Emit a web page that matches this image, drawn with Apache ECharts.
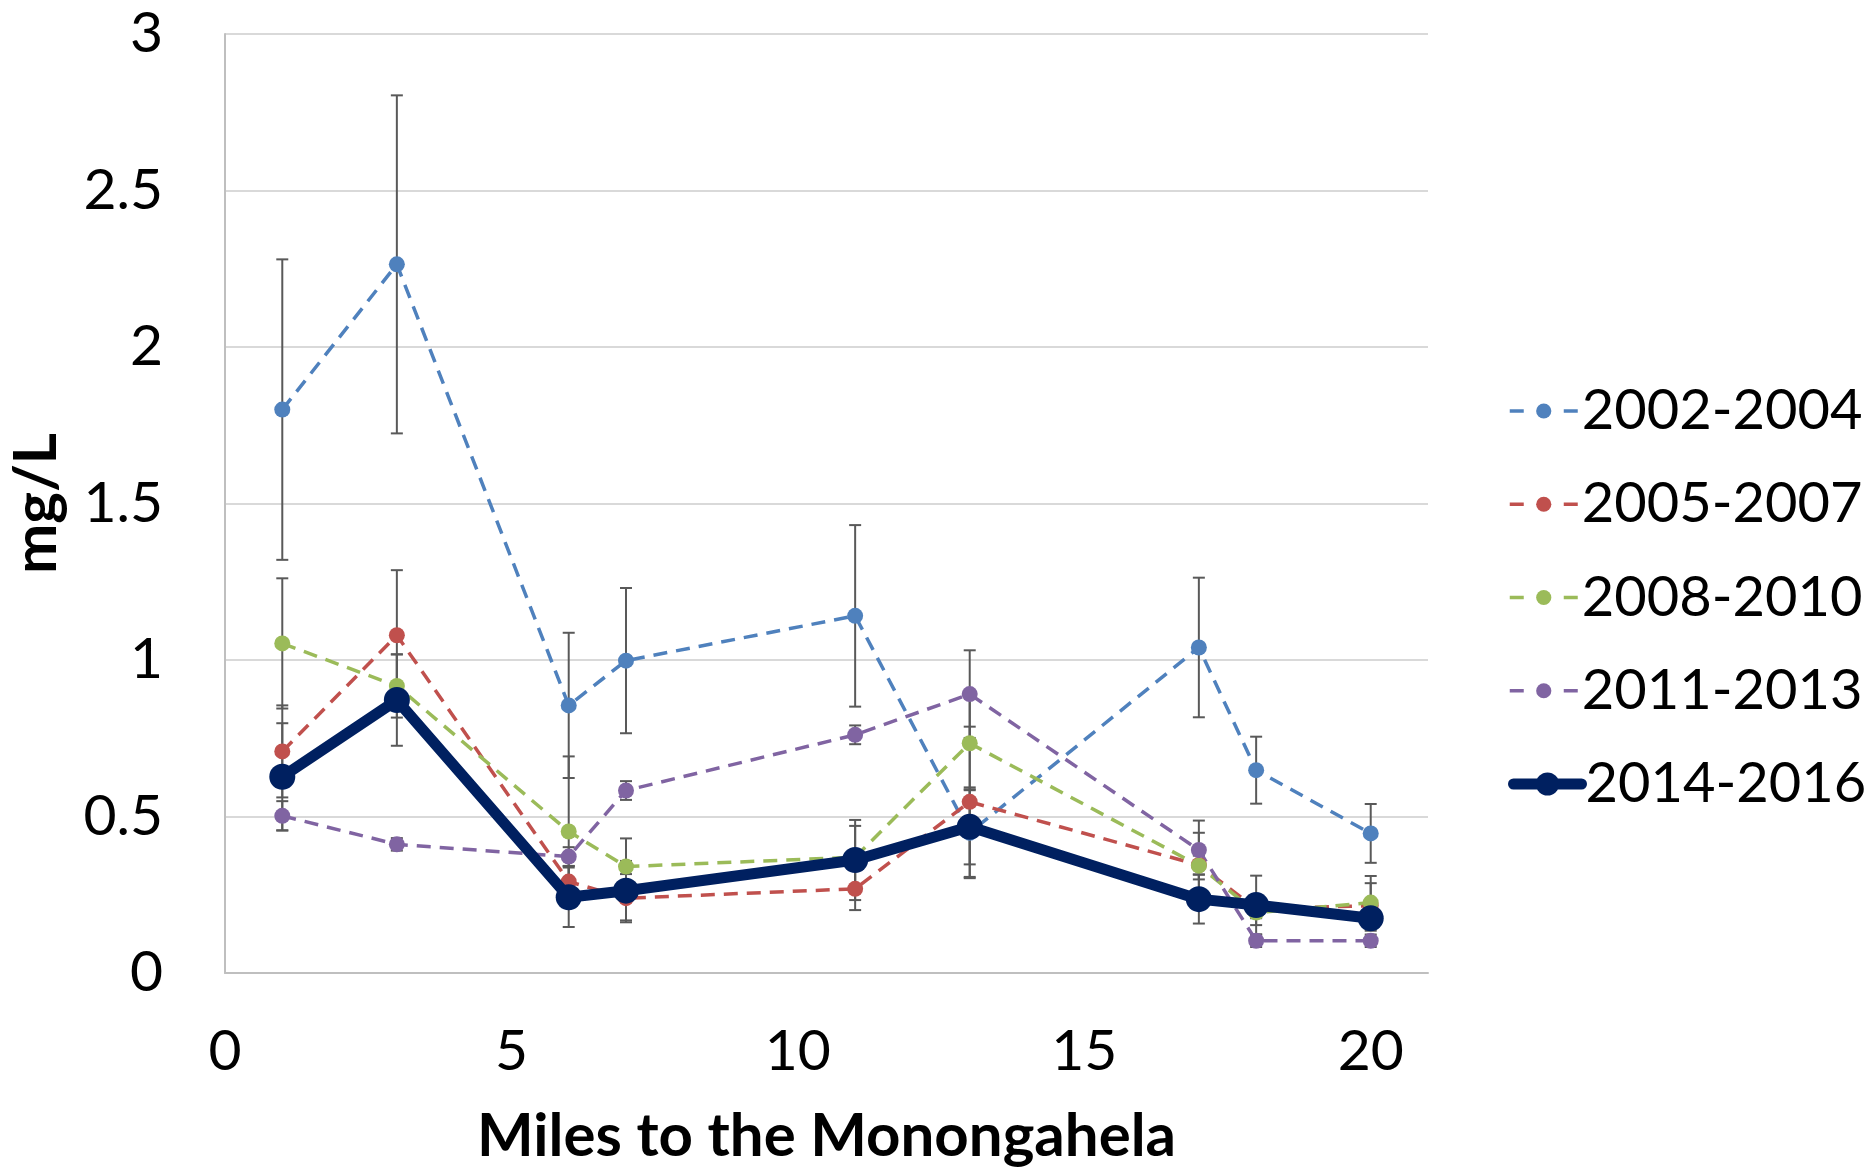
<!DOCTYPE html>
<html>
<head>
<meta charset="utf-8">
<script src="https://cdn.jsdelivr.net/npm/echarts@6/dist/echarts.min.js"></script>
<style>
html,body{margin:0;padding:0;background:#fff;}
#chart{width:1864px;height:1171px;}
</style>
</head>
<body>
<div id="chart"></div>
<script>
// ---- data ----
const miles = [1, 3, 6, 7, 11, 13, 17, 18, 20];
const seriesNames = ['2002-2004', '2005-2007', '2008-2010', '2011-2013', '2014-2016'];
const v2002 = [1.80, 2.264, 0.855, 0.998, 1.141, 0.448, 1.040, 0.648, 0.446];
const e2002 = [0.48, 0.54, 0.232, 0.232, 0.29, 0.145, 0.223, 0.107, 0.094];
const v2005 = [0.708, 1.079, 0.292, 0.239, 0.269, 0.547, 0.345, 0.205, 0.215];
const e2005 = [0.147, 0.208, 0.05, 0.077, 0.068, 0.24, 0.03, 0.03, 0.072];
const v2008 = [1.053, 0.917, 0.452, 0.340, 0.37, 0.734, 0.343, 0.193, 0.225];
const e2008 = [0.208, 0.101, 0.24, 0.09, 0.10, 0.15, 0.105, 0.04, 0.085];
const v2011 = [0.502, 0.411, 0.372, 0.583, 0.761, 0.891, 0.393, 0.103, 0.103];
const e2011 = [0.047, 0.02, 0.03, 0.03, 0.03, 0.14, 0.094, 0.02, 0.02];
const v2014 = [0.627, 0.872, 0.242, 0.263, 0.361, 0.467, 0.236, 0.217, 0.175];
const e2014 = [0.171, 0.146, 0.095, 0.095, 0.128, 0.12, 0.078, 0.094, 0.04];
const yTicks = [0, 0.5, 1, 1.5, 2, 2.5, 3];
const xTicks = [0, 5, 10, 15, 20];
const xTitle = 'Miles to the Monongahela';
const yTitle = 'mg/L';

const values = [v2002, v2005, v2008, v2011, v2014];
const errors = [e2002, e2005, e2008, e2011, e2014];
const colors = ['#4F81BD', '#C0504D', '#9BBB59', '#8064A2', '#002060'];

const FONT = 'Lato';

function errRender(params, api) {
  const x = api.value(0), lo = api.value(1), hi = api.value(2);
  const p1 = api.coord([x, hi]);
  const p2 = api.coord([x, lo]);
  const w = 6;
  const st = { stroke: '#595959', lineWidth: 2 };
  return {
    type: 'group',
    children: [
      { type: 'line', shape: { x1: p1[0], y1: p1[1], x2: p2[0], y2: p2[1] }, style: st },
      { type: 'line', shape: { x1: p1[0] - w, y1: p1[1], x2: p1[0] + w, y2: p1[1] }, style: st },
      { type: 'line', shape: { x1: p2[0] - w, y1: p2[1], x2: p2[0] + w, y2: p2[1] }, style: st }
    ]
  };
}

const series = [];
values.forEach((vals, k) => {
  series.push({
    type: 'custom',
    name: seriesNames[k] + ' err',
    renderItem: errRender,
    encode: { x: 0, y: [1, 2] },
    data: miles.map((m, i) => [m, vals[i] - errors[k][i], vals[i] + errors[k][i]]),
    z: 2,
    silent: true
  });
});
values.forEach((vals, k) => {
  const bold = k === 4;
  series.push({
    type: 'line',
    name: seriesNames[k],
    data: miles.map((m, i) => [m, vals[i]]),
    symbol: 'circle',
    symbolSize: bold ? 26 : 16,
    showAllSymbol: true,
    itemStyle: { color: colors[k] },
    lineStyle: bold ? { color: colors[k], width: 11, type: 'solid', cap: 'round', join: 'round' }
                    : { color: colors[k], width: 3.5, type: [14, 9] },
    z: bold ? 5 : 3,
    animation: false
  });
});

const legendText = { fontFamily: FONT, fontSize: 56, color: '#000', lineHeight: 60, padding: [0, 0, 0, -1] };
const LEG_TOP = 376, LEG_STEP = 93.25;

const chart = echarts.init(document.getElementById('chart'), null, { renderer: 'canvas' });
chart.setOption({
  animation: false,
  backgroundColor: '#fff',
  grid: { left: 225, top: 34, width: 1203, height: 939, containLabel: false, outerBoundsMode: 'none' },
  legend: [
    {
      data: seriesNames.slice(0, 4).map(n => ({ name: n, lineStyle: { width: 3.5, type: [14, 40] } })),
      orient: 'vertical',
      left: 1503,
      top: LEG_TOP,
      itemWidth: 68,
      itemHeight: 19,
      itemGap: LEG_STEP - 60,
      textStyle: legendText
    },
    {
      data: [{ name: seriesNames[4], lineStyle: { width: 11, cap: 'round' } }],
      orient: 'vertical',
      left: 1503,
      top: LEG_TOP + 4 * LEG_STEP,
      itemWidth: 68,
      itemHeight: 29,
      textStyle: legendText
    }
  ],
  xAxis: {
    type: 'value',
    min: 0, max: 21, interval: 5,
    name: xTitle,
    nameLocation: 'middle',
    nameGap: 134,
    nameTextStyle: { fontFamily: FONT, fontSize: 60, fontWeight: 'bold', color: '#000' },
    axisLine: { show: true, lineStyle: { color: '#BFBFBF', width: 2 } },
    axisTick: { show: false },
    splitLine: { show: false },
    axisLabel: {
      fontFamily: FONT, fontSize: 57, color: '#000', margin: 50,
      formatter: v => (xTicks.indexOf(v) >= 0 ? String(v) : '')
    }
  },
  yAxis: {
    type: 'value',
    min: 0, max: 3, interval: 0.5,
    name: yTitle,
    nameLocation: 'middle',
    nameGap: 158,
    nameRotate: 90,
    nameTextStyle: { fontFamily: FONT, fontSize: 60, fontWeight: 'bold', color: '#000' },
    axisLine: { show: true, lineStyle: { color: '#BFBFBF', width: 2 } },
    axisTick: { show: false },
    splitLine: { show: true, lineStyle: { color: '#D9D9D9', width: 2 } },
    axisLabel: {
      fontFamily: FONT, fontSize: 57, color: '#000', margin: 62,
      formatter: v => (yTicks.indexOf(v) >= 0 ? String(v) : '')
    }
  },
  series: series
});
</script>
</body>
</html>
